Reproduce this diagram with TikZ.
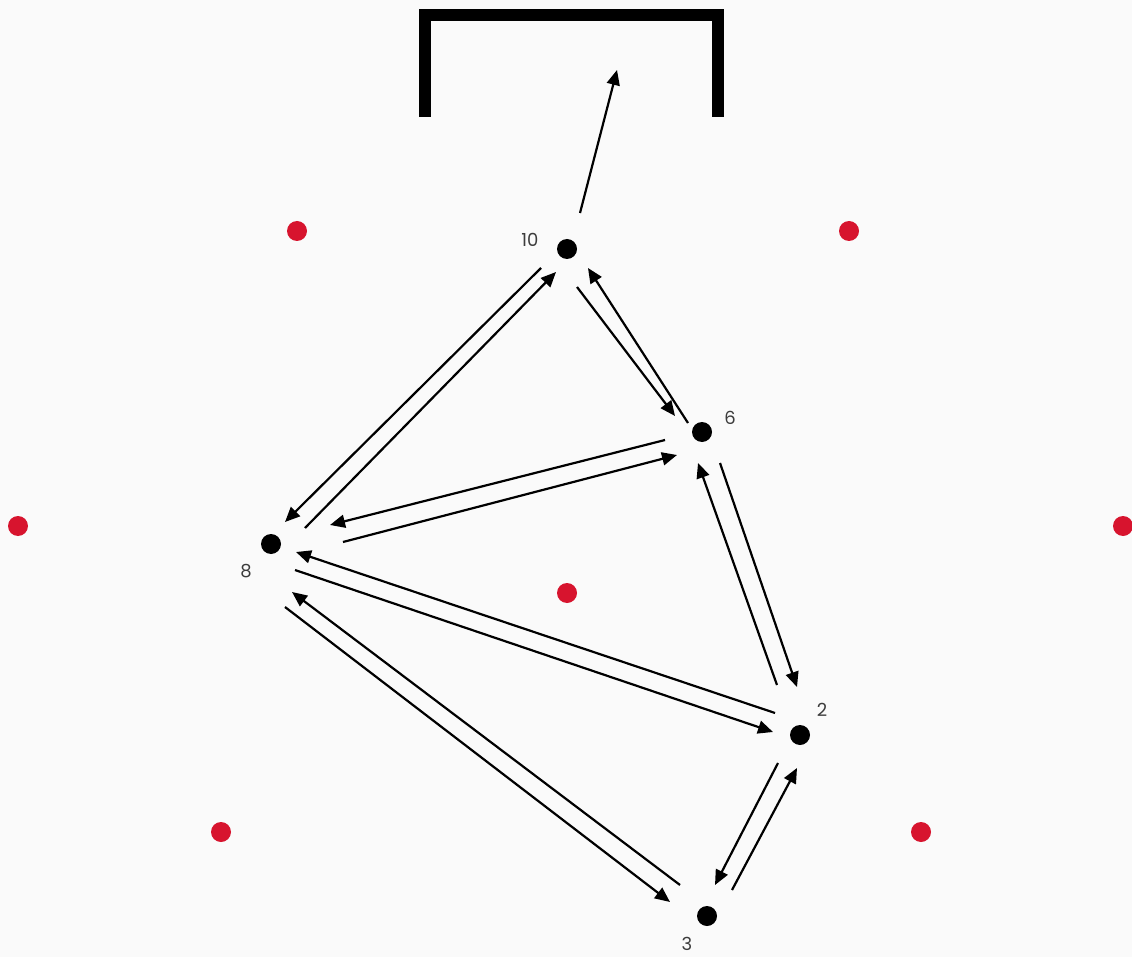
\documentclass[tikz,border=0pt]{standalone}
\usepackage{fontspec}
\setmainfont{Poppins}
\usetikzlibrary{arrows.meta,calc}
\definecolor{bg}{HTML}{FAFAFA}
\definecolor{conecol}{HTML}{D7142E}
\definecolor{lblcol}{HTML}{3C3C3C}
\begin{document}
\begin{tikzpicture}[x=1pt,y=-1pt,
  player/.style={circle,fill=black,inner sep=0pt,minimum size=20pt},
  cone/.style={circle,fill=conecol,inner sep=0pt,minimum size=20pt},
  lbl/.style={font=\fontsize{18}{18}\selectfont,text=lblcol,inner sep=0pt},
  pass/.style={line width=2.2pt,-{Triangle[length=15pt,width=13pt]}},
  goalframe/.style={line width=12pt,miter limit=10}]
\fill[bg] (0,0) rectangle (1132,957);
\useasboundingbox (0,0) rectangle (1132,957);
% goal
\draw[goalframe] (425,117) -- (425,15) -- (718,15) -- (718,117);
% cones
\foreach \x/\y [count=\i] in {297/231,849/231,18/526,1123/526,567/593,221/832,921/832}
  \node[cone] (c\i) at (\x,\y) {};
% players
\node[player] (p10) at (567,249) {};
\node[player] (p6) at (702,432) {};
\node[player] (p8) at (271,544) {};
\node[player] (p2) at (800,735) {};
\node[player] (p3) at (707,916) {};
% labels
\node[lbl] (l10) at (530,240) {10};
\node[lbl] (l6) at (730,418) {6};
\node[lbl] (l8) at (246,571) {8};
\node[lbl] (l2) at (822,710) {2};
\node[lbl] (l3) at (687,944) {3};
% passes
\draw[pass] ($(p10)+(-26,19)$) -- ($(p8)+(14,-22)$);
\draw[pass] ($(p8)+(34,-16)$) -- ($(p10)+(-11,23)$);
\draw[pass] ($(p10)+(10,38)$) -- ($(p6)+(-27,-16)$);
\draw[pass] ($(p6)+(-14,-9)$) -- ($(p10)+(21,19)$);
\draw[pass] ($(p6)+(-37,8)$) -- ($(p8)+(59,-19)$);
\draw[pass] ($(p8)+(72,-2)$) -- ($(p6)+(-25,23)$);
\draw[pass] ($(p6)+(18,31)$) -- ($(p2)+(-3,-48)$);
\draw[pass] ($(p2)+(-23,-50)$) -- ($(p6)+(-4,31)$);
\draw[pass] ($(p2)+(-25,-22)$) -- ($(p8)+(25,8)$);
\draw[pass] ($(p8)+(24,26)$) -- ($(p2)+(-27,-3)$);
\draw[pass] ($(p3)+(-27,-31)$) -- ($(p8)+(21,48)$);
\draw[pass] ($(p8)+(14,63)$) -- ($(p3)+(-37,-14)$);
\draw[pass] ($(p3)+(25,-26)$) -- ($(p2)+(-3,33)$);
\draw[pass] ($(p2)+(-22,28)$) -- ($(p3)+(8,-31)$);
% shot
\coordinate (shot) at (617,70);
\draw[pass] ($(p10)+(13,-36)$) -- (shot);
\end{tikzpicture}
\end{document}
